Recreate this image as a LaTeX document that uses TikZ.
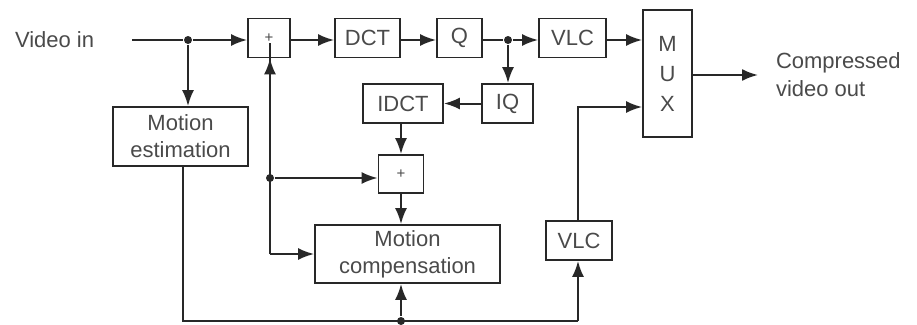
\documentclass[tikz,border=0pt]{standalone}
\usepackage{fontspec}
\setmainfont{Liberation Sans}
\usetikzlibrary{arrows.meta}
\definecolor{ln}{HTML}{282828}
\definecolor{tx}{HTML}{4a4a4a}
\begin{document}
\begin{tikzpicture}[x=1pt,y=-1pt,
  line width=2pt, draw=ln,
  blk/.style={draw=ln, line width=1.8pt, rectangle, inner sep=0pt, text=tx, align=center,
     font=\fontsize{22}{27}\selectfont},
  lbl/.style={text=tx, inner sep=0pt, font=\fontsize{22}{28}\selectfont},
  arr/.style={-{Latex[length=16pt,width=12pt]}},
  dot/.style={circle, fill=ln, inner sep=0pt, minimum size=8pt}]
\useasboundingbox (0,0) rectangle (917,324);
% blocks
\node[blk, minimum width=42pt, minimum height=39pt] (plus1) at (269,38) {\fontsize{15}{15}\selectfont +};
\node[blk, minimum width=65pt, minimum height=39pt] (dct) at (367.5,38) {DCT};
\node[blk, minimum width=45pt, minimum height=39pt] (q) at (459.5,38) {Q};
\node[blk, minimum width=67pt, minimum height=39pt] (vlc1) at (572.5,38) {VLC};
\node[blk, minimum width=49pt, minimum height=127pt] (mux) at (667.5,73.5) {M\\[3pt]U\\[3pt]X};
\node[blk, minimum width=51pt, minimum height=39pt] (iq) at (507.5,103.5) {IQ};
\node[blk, minimum width=80pt, minimum height=39pt] (idct) at (403,103.5) {IDCT};
\node[blk, minimum width=45pt, minimum height=38pt] (plus2) at (401,174) {\fontsize{15}{15}\selectfont +};
\node[blk, minimum width=185pt, minimum height=58pt] (mc) at (407.5,254) {Motion\\compensation};
\node[blk, minimum width=135pt, minimum height=59pt] (me) at (180.5,136.5) {Motion\\estimation};
\node[blk, minimum width=66pt, minimum height=39pt] (vlc2) at (579,240.5) {VLC};
% labels
\node[lbl, anchor=west] (vin) at (14,40) {Video in};
\node[lbl, anchor=west, align=left] (vout) at (775,75) {Compressed\\video out};
% junctions
\coordinate (s) at (132,40);
\node[dot] (d1) at (188,40) {};
\node[dot] (d2) at (508,40) {};
\node[dot] (d3) at (270,178) {};
\node[dot] (d4) at (401,321) {};
\coordinate (c1) at (183,321);
\coordinate (c2) at (578,321);
\coordinate (c3) at (578,107);
\coordinate (oe) at (758,75);
% connectors
\draw (s) -- (d1);
\draw[arr] (d1) -- (plus1.west |- d1);
\draw[arr] (d1) -- (me.north -| d1);
\draw[arr] (plus1.east |- d1) -- (dct.west |- d1);
\draw[arr] (dct.east |- d1) -- (q.west |- d1);
\draw (q.east |- d1) -- (d2);
\draw[arr] (d2) -- (vlc1.west |- d2);
\draw[arr] (vlc1.east |- d2) -- (mux.west |- d2);
\draw[arr] (d2) -- (iq.north -| d2);
\draw[arr] (iq.west) -- (idct.east);
\draw[arr] (idct.south -| plus2) -- (plus2.north);
\draw[arr] (plus2.south) -- (mc.north -| plus2);
\draw[arr] (d3) -- (plus2.west |- d3);
\draw[arr] (mc.west -| d3) |- (plus1.south -| d3);
\draw[arr] (d3 |- mc.west) -- (mc.west);
\draw (me.south -| c1) -- (c1) -- (c2);
\draw[arr] (d4) -- (mc.south -| d4);
\draw[arr] (c2) -- (vlc2.south -| c2);
\draw[arr] (vlc2.north -| c3) -- (c3) -- (mux.west |- c3);
\draw[arr] (mux.east |- oe) -- (oe);
\end{tikzpicture}
\end{document}
